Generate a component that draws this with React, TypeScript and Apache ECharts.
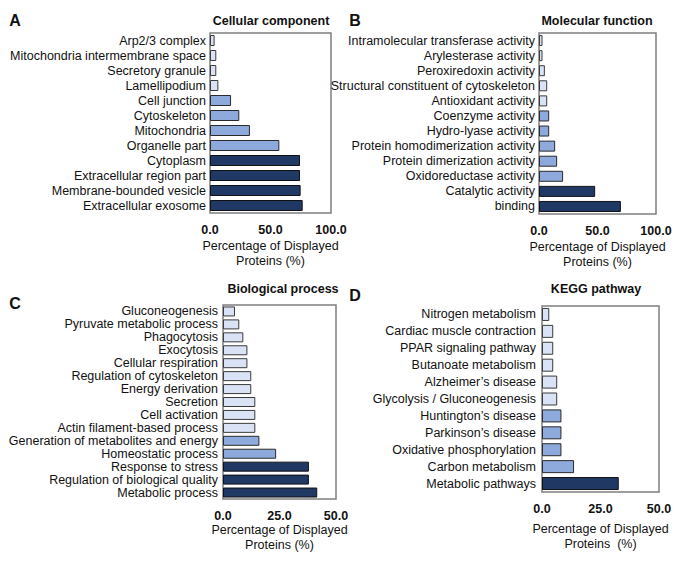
import React, { useEffect, useRef } from "react";
import * as echarts from "echarts";

const FONT = "'Liberation Sans', Arial, sans-serif";

// Panel A: Cellular component (top to bottom)
const ccCategories = [
  "Arp2/3 complex",
  "Mitochondria intermembrane space",
  "Secretory granule",
  "Lamellipodium",
  "Cell junction",
  "Cytoskeleton",
  "Mitochondria",
  "Organelle part",
  "Cytoplasm",
  "Extracellular region part",
  "Membrane-bounded vesicle",
  "Extracellular exosome",
];
const ccValues = [3.8, 5.2, 5.2, 6.9, 17.4, 24.2, 33, 57.3, 74.4, 74.4, 74.9, 76.6];
const ccLevels = [0, 0, 0, 0, 1, 1, 1, 1, 2, 2, 2, 2];

// Panel B: Molecular function
const mfCategories = [
  "Intramolecular transferase activity",
  "Arylesterase activity",
  "Peroxiredoxin activity",
  "Structural constituent of cytoskeleton",
  "Antioxidant activity",
  "Coenzyme activity",
  "Hydro-lyase activity",
  "Protein homodimerization activity",
  "Protein dimerization activity",
  "Oxidoreductase activity",
  "Catalytic activity",
  "binding",
];
const mfValues = [3, 3, 5, 7, 7, 8.7, 8.7, 13.8, 15.5, 20.6, 48, 70];
const mfLevels = [0, 0, 0, 0, 0, 1, 1, 1, 1, 1, 2, 2];

// Panel C: Biological process
const bpCategories = [
  "Gluconeogenesis",
  "Pyruvate metabolic process",
  "Phagocytosis",
  "Exocytosis",
  "Cellular respiration",
  "Regulation of cytoskeleton",
  "Energy derivation",
  "Secretion",
  "Cell activation",
  "Actin filament-based process",
  "Generation of metabolites and energy",
  "Homeostatic process",
  "Response to stress",
  "Regulation of biological quality",
  "Metabolic process",
];
const bpValues = [5.3, 7.2, 9.0, 10.8, 10.8, 12.5, 12.5, 14.3, 14.3, 14.3, 16.1, 23.5, 38, 38, 41.7];
const bpLevels = [0, 0, 0, 0, 0, 0, 0, 0, 0, 0, 1, 1, 2, 2, 2];

// Panel D: KEGG pathway
const keggCategories = [
  "Nitrogen metabolism",
  "Cardiac muscle contraction",
  "PPAR signaling pathway",
  "Butanoate metabolism",
  "Alzheimer\u2019s disease",
  "Glycolysis / Gluconeogenesis",
  "Huntington\u2019s disease",
  "Parkinson\u2019s disease",
  "Oxidative phosphorylation",
  "Carbon metabolism",
  "Metabolic pathways",
];
const keggValues = [3.1, 4.8, 4.8, 4.8, 6.5, 6.5, 8.3, 8.3, 8.3, 13.7, 32.8];
const keggLevels = [0, 0, 0, 0, 0, 0, 1, 1, 1, 1, 2];

const panelTitles = ["Cellular component", "Molecular function", "Biological process", "KEGG pathway"];
const panelLetters = ["A", "B", "C", "D"];
const axisMax = [100, 100, 50, 50];
const axisInterval = [50, 50, 25, 25];
const axisNames = [
  "Percentage of Displayed\nProteins (%)",
  "Percentage of Displayed\nProteins (%)",
  "Percentage of Displayed\nProteins (%)",
  "Percentage of Displayed\nProteins  (%)",
];

const FILLS = ["#dae3f5", "#8eaadc", "#203864"];
const BORDERS = ["#3a3a3a", "#2a2a2a", "#111111"];

export default function App() {
  const ref = useRef<HTMLDivElement>(null);

  useEffect(() => {
    if (!ref.current) return;
    const chart = echarts.init(ref.current, null, { renderer: "svg" });

    const panels = [
      { cats: ccCategories, vals: ccValues, lv: ccLevels, grid: { left: 210, top: 33, width: 121, height: 180 }, bw: 11, lm: 4, ng: 25, title: [271, 21], letter: [15, 20] },
      { cats: mfCategories, vals: mfValues, lv: mfLevels, grid: { left: 539, top: 33, width: 117, height: 181 }, bw: 11, lm: 4, ng: 25, title: [597, 21], letter: [355, 20] },
      { cats: bpCategories, vals: bpValues, lv: bpLevels, grid: { left: 223, top: 305, width: 113, height: 194 }, bw: 10, lm: 5, ng: 22, title: [283, 289], letter: [15, 303] },
      { cats: keggCategories, vals: keggValues, lv: keggLevels, grid: { left: 542, top: 306, width: 117, height: 186 }, bw: 13, lm: 6, ng: 29, title: [596, 289], letter: [355, 295] },
    ];

    const grids = panels.map((p) => ({
      ...p.grid,
      show: true,
      borderColor: "#7f7f7f",
      borderWidth: 1.5,
      containLabel: false,
    }));

    const xAxes = panels.map((p, i) => ({
      type: "value",
      gridIndex: i,
      min: 0,
      max: axisMax[i],
      interval: axisInterval[i],
      splitLine: { show: false },
      axisTick: { show: false },
      axisLine: { show: false },
      axisLabel: {
        margin: 10,
        fontFamily: FONT,
        fontSize: 12.5,
        fontWeight: "bold",
        color: "#111",
        formatter: (v: number) => v.toFixed(1),
      },
      name: axisNames[i],
      nameLocation: "middle",
      nameGap: p.ng,
      nameTextStyle: {
        fontFamily: FONT,
        fontSize: 12.5,
        color: "#111",
        lineHeight: 15,
        verticalAlign: "top",
      },
    }));

    const yAxes = panels.map((p, i) => ({
      type: "category",
      gridIndex: i,
      data: p.cats,
      inverse: true,
      axisTick: { show: false },
      axisLine: { show: false },
      axisLabel: {
        margin: p.lm,
        fontFamily: FONT,
        fontSize: 12.5,
        color: "#111",
        interval: 0,
      },
    }));

    const series = panels.map((p, i) => ({
      type: "bar",
      xAxisIndex: i,
      yAxisIndex: i,
      barWidth: p.bw,
      data: p.vals.map((v, k) => ({
        value: v,
        itemStyle: {
          color: FILLS[p.lv[k]],
          borderColor: BORDERS[p.lv[k]],
          borderWidth: 1,
        },
      })),
    }));

    const graphic: any[] = [];
    panels.forEach((p, i) => {
      graphic.push({
        type: "text",
        x: p.title[0],
        y: p.title[1],
        style: {
          text: panelTitles[i],
          font: `bold 12.5px ${FONT}`,
          fill: "#111",
          textAlign: "center",
          textVerticalAlign: "middle",
        },
      });
      graphic.push({
        type: "text",
        x: p.letter[0],
        y: p.letter[1],
        style: {
          text: panelLetters[i],
          font: `bold 16px ${FONT}`,
          fill: "#111",
          textAlign: "center",
          textVerticalAlign: "middle",
        },
      });
    });

    chart.setOption({
      animation: false,
      backgroundColor: "#ffffff",
      grid: grids,
      xAxis: xAxes,
      yAxis: yAxes,
      series,
      graphic,
    });

    return () => chart.dispose();
  }, []);

  return (
    <div
      ref={ref}
      style={{ position: "fixed", left: 0, top: 0, width: 675, height: 565, background: "#fff" }}
    />
  );
}
